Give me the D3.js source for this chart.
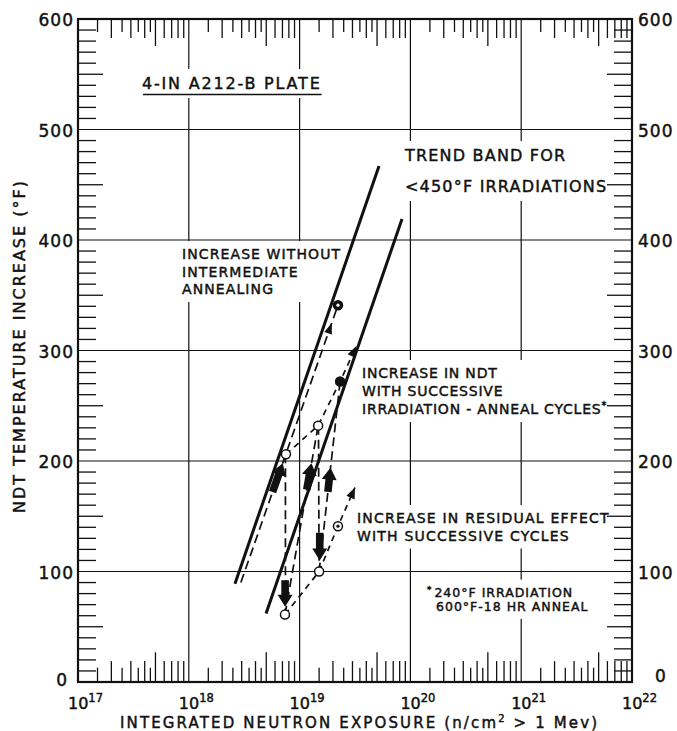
<!DOCTYPE html>
<html>
<head>
<meta charset="utf-8">
<script src="https://cdn.jsdelivr.net/npm/d3@7"></script>
<style>
  body { margin: 0; background: #fff; }
  svg { display: block; }
  text { font-family: "DejaVu Sans", sans-serif; fill: #111; stroke: #111; stroke-width: 0.45px; }
</style>
</head>
<body>
<svg id="chart" width="677" height="731"></svg>
<script>
// Values (fluence in n/cm2, temperature increase in F)
const decades = [17, 18, 19, 20, 21, 22];
const minorSteps = [1.5, 2, 2.5, 3, 3.5, 4, 4.5, 5, 6, 7, 8, 9];
const tempTicks = [0, 100, 200, 300, 400, 500, 600];

// trend band for <450F irradiations
const bandUpper = [[2.61e18, 89], [5.21e19, 467]];
const bandLower = [[4.98e18, 62], [8.4e19, 419]];

// specimens
const openPoints = [[7.53e18, 206], [7.38e18, 61], [1.47e19, 232], [1.5e19, 100]];
const filledPoints = [[2.32e19, 272]];
const markedPoints = [[2.22e19, 341], [2.22e19, 141]];

// paths
const withoutAnnealing = [[2.95e18, 90], [2.22e19, 341]];
const irradiationSteps = [
  [[7.38e18, 61], [1.47e19, 232]],
  [[1.5e19, 100], [2.32e19, 272]],
];
const annealSteps = [
  [[7.45e18, 206], [7.45e18, 61]],
  [[1.48e19, 232], [1.5e19, 100]],
];
const ndtTrend = [[7.53e18, 206], [1.47e19, 232], [2.32e19, 272], [3.25e19, 304]];
const residualTrend = [[7.38e18, 61], [1.5e19, 100], [2.22e19, 141], [3.16e19, 176]];

// heavy arrows: [tail, tip]
const thickArrows = [
  [[5.7e18, 172], [7.05e18, 198]],
  [[1.16e19, 174], [1.28e19, 198]],
  [[1.8e19, 172], [1.9e19, 194]],
  [[1.52e19, 135], [1.52e19, 110]],
  [[7.4e18, 92], [7.4e18, 68]],
];
// small arrowhead along the no-anneal line
const midArrowTips = [[1.95e19, 325]];

const svg = d3.select('#chart');
const x = d3.scaleLog().domain([1e17, 1e22]).range([78, 632]);
const y = d3.scaleLinear().domain([0, 600]).range([682, 19]);
const [xl, xr] = x.range();
const [yb, yt] = y.range();
const ink = '#111';

// grid
const grid = svg.append('g').attr('stroke', ink).attr('stroke-width', 1.2);
grid.append('g').selectAll('line')
  .data(tempTicks.slice(1, -1))
  .join('line')
    .attr('x1', xl).attr('x2', xr)
    .attr('y1', (d) => y(d)).attr('y2', (d) => y(d));
grid.append('g').selectAll('line')
  .data(decades.slice(1, -1))
  .join('line')
    .attr('x1', (d) => x(10 ** d)).attr('x2', (d) => x(10 ** d))
    .attr('y1', yt).attr('y2', yb);

// notes, with white patches that break the grid
const notes = [
  {lines: ['4-IN A212-B PLATE'], x: 142, y: 89, lead: 0, size: 16, ls: 1.8, underline: true},
  {lines: ['TREND BAND FOR', '<450°F IRRADIATIONS'], x: 405, y: 161, lead: 31, size: 16, ls: 1.2},
  {lines: ['INCREASE WITHOUT', 'INTERMEDIATE', 'ANNEALING'], x: 182, y: 259, lead: 17.5, size: 14, ls: 1.1},
  {lines: ['INCREASE IN NDT', 'WITH SUCCESSIVE', 'IRRADIATION - ANNEAL CYCLES*'], x: 362, y: 378, lead: 18, size: 14, ls: 0.8},
  {lines: ['INCREASE IN RESIDUAL EFFECT', 'WITH SUCCESSIVE CYCLES'], x: 357, y: 523, lead: 17.5, size: 14, ls: 1.2},
  {lines: ['*240°F IRRADIATION', '600°F-18 HR ANNEAL'], x: 427, y: 597, lead: 14, size: 12.5, ls: 1, indent: [0, 9]},
];

const noteLayer = svg.append('g');
notes.forEach((n) => {
  const g = noteLayer.append('g');
  const t = g.append('text')
    .attr('font-size', n.size)
    .attr('letter-spacing', n.ls);
  n.lines.forEach((line, i) => {
    const parts = line.split('*');
    const lx = n.x + (n.indent ? n.indent[i] : 0);
    const ly = n.y + i * n.lead;
    parts.forEach((p, j) => {
      if (j > 0) {
        t.append('tspan').attr('font-size', n.size * 0.7)
          .attr('x', j === 1 && p.length && parts[0] === '' ? lx : null)
          .attr('y', ly - n.size * 0.35).text('*');
      }
      if (p.length) {
        const s = t.append('tspan').attr('y', ly).text(p);
        if (j === 0) s.attr('x', lx);
      }
    });
    if (parts[0] === '') t.select('tspan:last-child').attr('dx', 2);
  });
  const bb = t.node().getBBox();
  g.insert('rect', 'text')
    .attr('x', bb.x - 4).attr('y', bb.y - 5)
    .attr('width', bb.width + 8).attr('height', bb.height + 10)
    .attr('fill', '#fff');
  if (n.underline) {
    g.append('line')
      .attr('x1', bb.x + 1).attr('x2', bb.x + bb.width)
      .attr('y1', n.y + 5.5).attr('y2', n.y + 5.5)
      .attr('stroke', ink).attr('stroke-width', 1.6);
  }
});

// minor ticks
const xMinor = [];
decades.slice(0, -1).forEach((d) => {
  minorSteps.forEach((s) => {
    xMinor.push({v: s * 10 ** d, len: s === 5 ? 27 : Number.isInteger(s) ? 19 : 13});
  });
});
const yMinor = d3.range(10, 600, 10)
  .filter((v) => v % 100 !== 0)
  .map((v) => ({v, len: v % 50 === 0 ? 25 : 18}));

const ticks = svg.append('g').attr('stroke', ink).attr('stroke-width', 1.3);
ticks.append('g').selectAll('line').data(xMinor).join('line')
  .attr('x1', (d) => x(d.v)).attr('x2', (d) => x(d.v))
  .attr('y1', yt).attr('y2', (d) => yt + d.len);
ticks.append('g').selectAll('line').data(xMinor).join('line')
  .attr('x1', (d) => x(d.v)).attr('x2', (d) => x(d.v))
  .attr('y1', yb).attr('y2', (d) => yb - d.len * 1.1);
ticks.append('g').selectAll('line').data(yMinor).join('line')
  .attr('x1', xl).attr('x2', (d) => xl + d.len)
  .attr('y1', (d) => y(d.v)).attr('y2', (d) => y(d.v));
ticks.append('g').selectAll('line').data(yMinor).join('line')
  .attr('x1', xr).attr('x2', (d) => xr - d.len)
  .attr('y1', (d) => y(d.v)).attr('y2', (d) => y(d.v));

// frame
svg.append('rect')
  .attr('x', xl).attr('y', yt)
  .attr('width', xr - xl).attr('height', yb - yt)
  .attr('fill', 'none').attr('stroke', ink).attr('stroke-width', 2.2);

// y tick labels, both sides
const yLab = svg.append('g').attr('font-size', 17).attr('letter-spacing', 1);
yLab.selectAll('.l').data(tempTicks).join('text')
  .attr('class', 'l')
  .attr('x', (d) => d === 0 ? 68 : 74)
  .attr('y', (d) => y(d) + (d === 0 ? -2 : 1))
  .attr('dy', '0.36em')
  .attr('text-anchor', 'end')
  .text((d) => d);
yLab.selectAll('.r').data(tempTicks).join('text')
  .attr('class', 'r')
  .attr('x', (d) => d === 0 ? 655 : 638)
  .attr('y', (d) => y(d) + (d === 0 ? -6 : 1))
  .attr('dy', '0.36em')
  .text((d) => d);

// x tick labels 10^n
const xLab = svg.append('g').selectAll('text').data(decades).join('text')
  .attr('x', (d) => x(10 ** d) - 10)
  .attr('y', 709)
  .attr('font-size', 16);
xLab.append('tspan').text('10');
xLab.append('tspan').attr('dy', -7).attr('font-size', 11.5).text((d) => d);

// axis titles
svg.append('text')
  .attr('transform', 'translate(25,347) rotate(-90)')
  .attr('text-anchor', 'middle')
  .attr('font-size', 16)
  .attr('textLength', 332).attr('lengthAdjust', 'spacing')
  .text('NDT TEMPERATURE INCREASE (°F)');
const xt = svg.append('text')
  .attr('x', 120).attr('y', 728)
  .attr('font-size', 15)
  .attr('textLength', 477).attr('lengthAdjust', 'spacing');
xt.append('tspan').text('INTEGRATED NEUTRON EXPOSURE  (n/cm');
xt.append('tspan').attr('dy', -6).attr('font-size', 10).text('2');
xt.append('tspan').attr('dy', 6).text(' > 1 Mev)');

// trend band
const line = d3.line().x((d) => x(d[0])).y((d) => y(d[1]));
svg.append('g').selectAll('path').data([bandUpper, bandLower]).join('path')
  .attr('d', line)
  .attr('fill', 'none').attr('stroke', ink).attr('stroke-width', 3);

// dashed paths
const dashed = svg.append('g').attr('fill', 'none').attr('stroke', ink).attr('stroke-width', 1.7);
dashed.selectAll('.long')
  .data([withoutAnnealing, ...irradiationSteps, ...annealSteps])
  .join('path').attr('class', 'long')
  .attr('d', line).attr('stroke-dasharray', '9,5');
dashed.selectAll('.short')
  .data([ndtTrend, residualTrend])
  .join('path').attr('class', 'short')
  .attr('d', line).attr('stroke-dasharray', '6,5');

// arrow helpers (pixel space)
function headPath(tip, from, len, half) {
  const dx = tip[0] - from[0], dy = tip[1] - from[1];
  const L = Math.hypot(dx, dy), ux = dx / L, uy = dy / L;
  const bx = tip[0] - ux * len, by = tip[1] - uy * len;
  return `M${tip[0]},${tip[1]}L${bx - uy * half},${by + ux * half}L${bx + uy * half},${by - ux * half}Z`;
}
function fatArrow(tail, tip) {
  const dx = tip[0] - tail[0], dy = tip[1] - tail[1];
  const L = Math.hypot(dx, dy), ux = dx / L, uy = dy / L;
  const head = 12, hw = 7.5, sw = 3.8;
  const nx = -uy, ny = ux;
  const bx = tip[0] - ux * head, by = tip[1] - uy * head;
  const pts = [
    [tail[0] + nx * sw, tail[1] + ny * sw],
    [bx + nx * sw, by + ny * sw],
    [bx + nx * hw, by + ny * hw],
    tip,
    [bx - nx * hw, by - ny * hw],
    [bx - nx * sw, by - ny * sw],
    [tail[0] - nx * sw, tail[1] - ny * sw],
  ];
  return 'M' + pts.map((p) => p.join(',')).join('L') + 'Z';
}
const px = (d) => [x(d[0]), y(d[1])];

const arrows = svg.append('g').attr('fill', ink);
arrows.selectAll('.fat').data(thickArrows).join('path')
  .attr('class', 'fat')
  .attr('d', (d) => fatArrow(px(d[0]), px(d[1])));
arrows.selectAll('.mid').data(midArrowTips).join('path')
  .attr('class', 'mid')
  .attr('d', (d) => headPath(px(d), px(withoutAnnealing[0]), 11, 4));
arrows.selectAll('.end').data([ndtTrend, residualTrend]).join('path')
  .attr('class', 'end')
  .attr('d', (d) => headPath(px(d[d.length - 1]), px(d[d.length - 2]), 11, 4.5));

// points
const pts = svg.append('g').attr('stroke', ink).attr('stroke-width', 1.5);
pts.selectAll('.open').data(openPoints).join('circle')
  .attr('class', 'open')
  .attr('cx', (d) => x(d[0])).attr('cy', (d) => y(d[1]))
  .attr('r', 4.5).attr('fill', '#fff');
pts.selectAll('.filled').data(filledPoints).join('circle')
  .attr('class', 'filled')
  .attr('cx', (d) => x(d[0])).attr('cy', (d) => y(d[1]))
  .attr('r', 4.5).attr('fill', ink);
const marked = pts.selectAll('.marked').data(markedPoints).join('g')
  .attr('class', 'marked')
  .attr('transform', (d) => `translate(${x(d[0])},${y(d[1])})`);
marked.append('circle').attr('r', 4.5).attr('fill', (d, i) => i === 0 ? ink : '#fff');
marked.append('circle').attr('r', 1.6).attr('stroke', 'none')
  .attr('fill', (d, i) => i === 0 ? '#fff' : ink);
</script>
</body>
</html>
